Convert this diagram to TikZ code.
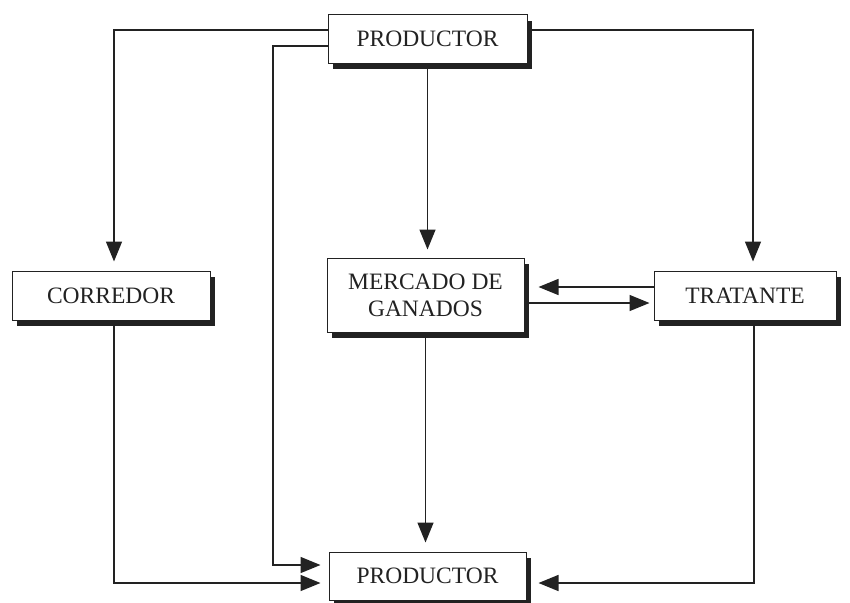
\documentclass[tikz,border=0pt]{standalone}
\usepackage{fontspec}
\setmainfont{Liberation Serif}
\usetikzlibrary{arrows.meta}
\definecolor{ink}{HTML}{222222}
\tikzset{
  box/.style={draw=ink, line width=1pt, fill=white, inner sep=0pt, text=ink,
    align=center, font=\fontsize{23.5}{27}\selectfont,
    preaction={fill=ink, transform canvas={xshift=5pt,yshift=-6pt}}},
  conn/.style={draw=ink, line width=1.5pt, -{Triangle[length=20pt,width=16pt]}}
}
\begin{document}
\begin{tikzpicture}[x=1pt,y=-1pt]
\useasboundingbox (0,0) rectangle (850,602);
\node[box, minimum width=199pt, minimum height=48pt] (top) at (427.5,39) {PRODUCTOR};
\node[box, minimum width=198pt, minimum height=49pt] (corredor) at (111,295.5) {CORREDOR};
\node[box, minimum width=197pt, minimum height=74pt] (mercado) at (425.5,295) {MERCADO DE\\GANADOS};
\node[box, minimum width=182pt, minimum height=49pt] (tratante) at (745,295.5) {TRATANTE};
\node[box, minimum width=197pt, minimum height=48pt] (bot) at (427.5,576) {PRODUCTOR};
\coordinate (lt) at (273,565);

\draw[conn, shorten >=9pt] ([yshift=9pt]top.west) -| ([xshift=3pt]corredor.north);
\draw[conn, shorten >=8pt] ([yshift=-7pt]top.west) -| (lt) -- (lt -| bot.west);
\draw[conn, shorten >=8pt] (top.south) -- (top.south |- mercado.north);
\draw[conn, shorten >=9pt] ([yshift=9pt]top.east) -| ([xshift=8pt]tratante.north);
\draw[conn, shorten >=14pt] ([yshift=8.5pt]tratante.west) -- ([yshift=8.5pt]tratante.west -| mercado.east);
\draw[conn, shorten >=4pt] ([yshift=-8pt]mercado.east) -- ([yshift=-8pt]mercado.east -| tratante.west);
\draw[conn, shorten >=9pt] (mercado.south) -- (mercado.south |- bot.north);
\draw[conn, shorten >=8pt] ([xshift=3pt]corredor.south) |- ([yshift=-7pt]bot.west);
\draw[conn, shorten >=12pt] ([xshift=9pt]tratante.south) |- ([yshift=-7pt]bot.east);
\end{tikzpicture}
\end{document}
